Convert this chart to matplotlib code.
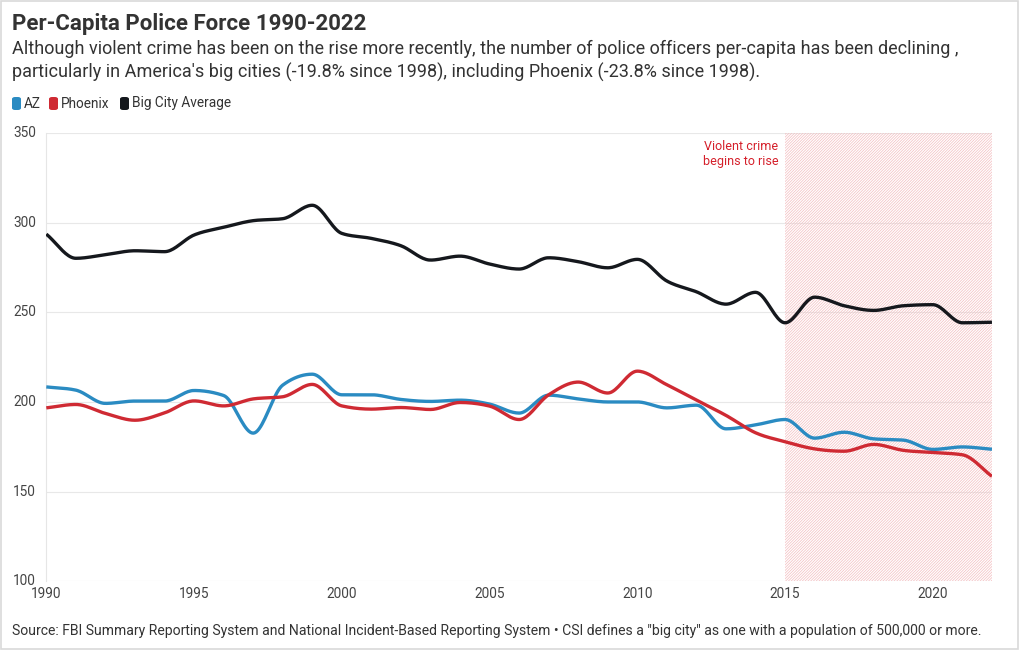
import numpy as np
import matplotlib
matplotlib.use("Agg")
import matplotlib.pyplot as plt
from matplotlib.patches import FancyBboxPatch, Rectangle

plt.rcParams['font.family'] = ['Roboto', 'DejaVu Sans']

years = list(range(1990, 2023))
az = [208.4, 206.6, 199.2, 200.5, 200.5, 206.4, 203.6, 182.6, 209.4, 215.5,
      204.0, 204.0, 201.4, 200.3, 201.0, 198.8, 193.8, 203.8, 201.7, 200.0,
      200.0, 196.7, 198.2, 185.0, 187.2, 190.2, 179.8, 183.1, 179.4, 178.7,
      173.5, 174.9, 173.6]
phoenix = [196.7, 198.6, 193.6, 189.8, 193.9, 200.6, 197.8, 201.7, 202.9, 209.8,
           197.8, 196.0, 196.9, 195.8, 199.7, 197.7, 190.2, 204.0, 211.1, 205.0,
           217.2, 209.6, 201.0, 192.5, 182.8, 177.8, 173.8, 172.5, 176.3, 173.0,
           171.8, 170.5, 158.5]
big_city = [293.7, 280.2, 282.2, 284.4, 283.9, 293.2, 297.5, 301.2, 302.3, 309.8,
            294.1, 291.3, 287.2, 279.2, 281.4, 277.0, 274.2, 280.5, 278.3, 274.9,
            279.6, 267.5, 261.5, 254.6, 261.2, 244.2, 258.5, 253.7, 251.1, 253.7,
            254.3, 244.2, 244.5]
series_names = ["AZ", "Phoenix", "Big City Average"]
series_colors = ["#2a8bc2", "#cf2a33", "#15181d"]
yticks = [100, 150, 200, 250, 300, 350]
xticks = [1990, 1995, 2000, 2005, 2010, 2015, 2020]
shade_start, shade_end = 2015, 2022


def monotone_x(x, y, n=20):
    """d3 curveMonotoneX-style rendering of the polyline."""
    x = np.asarray(x, float)
    y = np.asarray(y, float)
    h = np.diff(x)
    d = np.diff(y) / h
    m = np.zeros_like(y)
    m[0] = d[0]
    m[-1] = d[-1]
    for i in range(1, len(y) - 1):
        if d[i - 1] * d[i] <= 0:
            m[i] = 0
        else:
            p = (d[i - 1] * h[i] + d[i] * h[i - 1]) / (h[i - 1] + h[i])
            m[i] = (np.sign(d[i - 1]) + np.sign(d[i])) * min(abs(d[i - 1]), abs(d[i]), 0.5 * abs(p))
    xs, ys = [], []
    for i in range(len(x) - 1):
        t = np.linspace(0, 1, n, endpoint=False)
        h00 = 2 * t**3 - 3 * t**2 + 1
        h10 = t**3 - 2 * t**2 + t
        h01 = -2 * t**3 + 3 * t**2
        h11 = t**3 - t**2
        xs.append(x[i] + t * h[i])
        ys.append(h00 * y[i] + h10 * h[i] * m[i] + h01 * y[i + 1] + h11 * h[i] * m[i + 1])
    xs.append([x[-1]])
    ys.append([y[-1]])
    return np.concatenate(xs), np.concatenate(ys)


fig = plt.figure(figsize=(10.2, 6.5), dpi=100)
fig.patch.set_facecolor("white")
fig.add_artist(Rectangle((0.0005, 0.0008), 0.998, 0.998, transform=fig.transFigure,
                         fill=False, edgecolor="#d9d9d9", linewidth=1.2))

ax = fig.add_axes([0.0454, 0.106, 0.9271, 0.689])
ax.set_xlim(1990, 2022)
ax.set_ylim(100, 350)

plt.rcParams['hatch.linewidth'] = 0.5
ax.axvspan(shade_start, shade_end, facecolor="none", edgecolor="#f3bcbf",
           hatch="////////////", linewidth=0, zorder=1)

for yt in yticks:
    ax.axhline(yt, color="#e8e8e8", linewidth=0.8, zorder=0)

for vals, c in zip([az, phoenix, big_city], series_colors):
    sx, sy = monotone_x(years, vals)
    ax.plot(sx, sy, color=c, linewidth=2.4, solid_capstyle="butt", zorder=3)

for s in ["top", "right", "bottom"]:
    ax.spines[s].set_visible(False)
ax.spines["left"].set_color("#e6e6e6")
ax.spines["left"].set_linewidth(0.8)

ax.set_yticks(yticks)
ax.set_yticklabels([])
ax.tick_params(axis="y", length=0)
for yt in yticks:
    ax.text(-0.011, yt, str(yt), transform=ax.get_yaxis_transform(), ha="right",
            va="center", fontsize=9.8, color="#444444")
ax.set_xticks(xticks)
ax.set_xticklabels([str(v) for v in xticks], fontsize=9.8, color="#444444")
ax.tick_params(axis="x", length=0, pad=4)

ax.text(shade_start - 0.22, 346, "Violent crime\nbegins to rise", ha="right", va="top",
        fontsize=9.0, color="#d5202b", linespacing=1.15)

fig.text(12 / 1020, 1 - 24 / 650, "Per-Capita Police Force 1990-2022", fontsize=16,
         fontweight="bold", color="#333333", va="center", ha="left")
fig.text(12 / 1020, 1 - 49 / 650,
         "Although violent crime has been on the rise more recently, the number of police officers per-capita has been declining ,",
         fontsize=13, color="#333333", va="center", ha="left")
fig.text(12 / 1020, 1 - 72 / 650,
         "particularly in America's big cities (-19.8% since 1998), including Phoenix (-23.8% since 1998).",
         fontsize=13, color="#333333", va="center", ha="left")

lx = [12, 49, 120]
for name, c, x0 in zip(series_names, series_colors, lx):
    fig.add_artist(FancyBboxPatch((x0 / 1020, 1 - 110 / 650), 9 / 1020, 13 / 650,
                                  boxstyle="round,pad=0,rounding_size=0.003",
                                  transform=fig.transFigure, facecolor=c, edgecolor="none"))
    fig.text((x0 + 12) / 1020, 1 - 103.5 / 650, name, fontsize=9.8, color="#333333",
             va="center", ha="left")

fig.text(12 / 1020, 1 - 631 / 650,
         "Source: FBI Summary Reporting System and National Incident-Based Reporting System \u2022 CSI defines a \"big city\" as one with a population of 500,000 or more.",
         fontsize=10.05, color="#333333", va="center", ha="left")

fig.savefig("out.png", dpi=100, facecolor="white")
